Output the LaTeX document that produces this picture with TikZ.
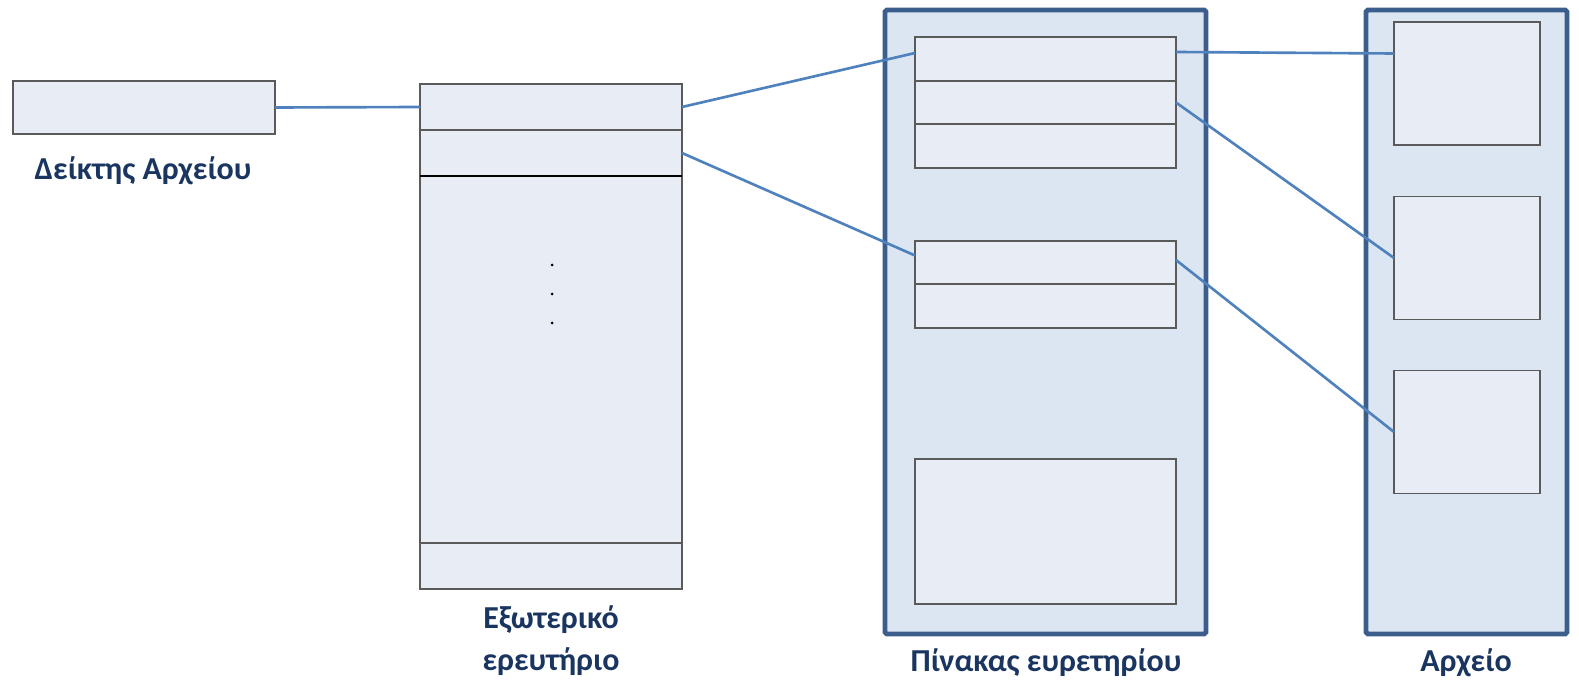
\documentclass[tikz,border=0pt]{standalone}
\usepackage{fontspec}
\setmainfont{Carlito}
\usetikzlibrary{positioning}
\definecolor{boxfill}{HTML}{E8ECF4}
\definecolor{panelfill}{HTML}{DCE6F2}
\definecolor{panelline}{HTML}{3B5E8C}
\definecolor{linkblue}{HTML}{4F81BD}
\definecolor{boxline}{HTML}{5A5A5A}
\definecolor{labelblue}{HTML}{1A3560}
\tikzstyle{cell}=[draw=boxline, fill=boxfill, line width=1.1pt, inner sep=0pt, outer sep=0pt, minimum width=5.24cm, minimum height=0.92cm]
\tikzstyle{panel}=[draw=panelline, fill=panelfill, line width=2.8pt, inner sep=0pt, outer sep=0pt, rounded corners=1pt]
\tikzstyle{record}=[draw=boxline, fill=boxfill, line width=1.1pt, inner sep=0pt, outer sep=0pt, minimum width=2.92cm, minimum height=2.46cm]
\tikzstyle{caption}=[text=labelblue, font=\fontsize{18.2}{22}\selectfont\bfseries, align=center, inner sep=0pt]
\tikzstyle{link}=[draw=linkblue, line width=1.5pt]

\begin{document}
\begin{tikzpicture}
    \useasboundingbox (0,0) rectangle (31.58,-13.72);

    % containers
    \node[panel, minimum width=6.42cm, minimum height=12.48cm] (tab) at (20.91,-6.44) {};
    \node[panel, minimum width=4.02cm, minimum height=12.48cm] (arx) at (29.33,-6.44) {};

    % file pointer
    \node[cell, minimum height=1.06cm] (ptr) at (2.88,-2.15) {};
    \node[caption] (tptr) at (2.86,-3.42) {Δείκτης Αρχείου};

    % outer index
    \node[cell] (e1) at (11.02,-2.14) {};
    \node[cell, below=0pt of e1] (e2) {};
    \node[cell, below=0pt of e2, minimum height=7.34cm] (e3) {};
    \node[cell, below=0pt of e3] (e4) {};
    \draw[black, line width=1.1pt] (e3.north west) -- (e3.north east);
    \foreach \y in {5.30,5.88,6.46}
        \fill (11.04,-\y) circle (0.03);
    \node[caption] (tout) at (11.02,-12.82) {Εξωτερικό\\[2pt]ερευτήριο};

    % index table blocks
    \node[cell, minimum width=5.22cm, minimum height=0.87cm] (a1) at (20.91,-1.18) {};
    \node[cell, minimum width=5.22cm, minimum height=0.87cm, below=0pt of a1] (a2) {};
    \node[cell, minimum width=5.22cm, minimum height=0.87cm, below=0pt of a2] (a3) {};
    \node[cell, minimum width=5.22cm, minimum height=0.87cm] (b1) at (20.91,-5.25) {};
    \node[cell, minimum width=5.22cm, minimum height=0.87cm, below=0pt of b1] (b2) {};
    \node[cell, minimum width=5.22cm, minimum height=2.9cm] (c1) at (20.91,-10.63) {};
    \node[caption] (ttab) at (20.92,-13.25) {Πίνακας ευρετηρίου};

    % records
    \node[record] (r1) at (29.34,-1.67) {};
    \node[record] (r2) at (29.34,-5.16) {};
    \node[record] (r3) at (29.34,-8.64) {};
    \node[caption] (tarx) at (29.32,-13.25) {Αρχείο};

    % links
    \draw[link] (ptr.east) -- (e1.west);
    \draw[link] (e1.east) -- ([yshift=0.12cm]a1.west);
    \draw[link] (e2.east) -- ([yshift=0.14cm]b1.west);
    \draw[link] ([yshift=0.14cm]a1.east) -- ([yshift=0.60cm]r1.west);
    \draw[link] (a2.east) -- (r2.west);
    \draw[link] ([yshift=0.05cm]b1.east) -- (r3.west);
\end{tikzpicture}
\end{document}
